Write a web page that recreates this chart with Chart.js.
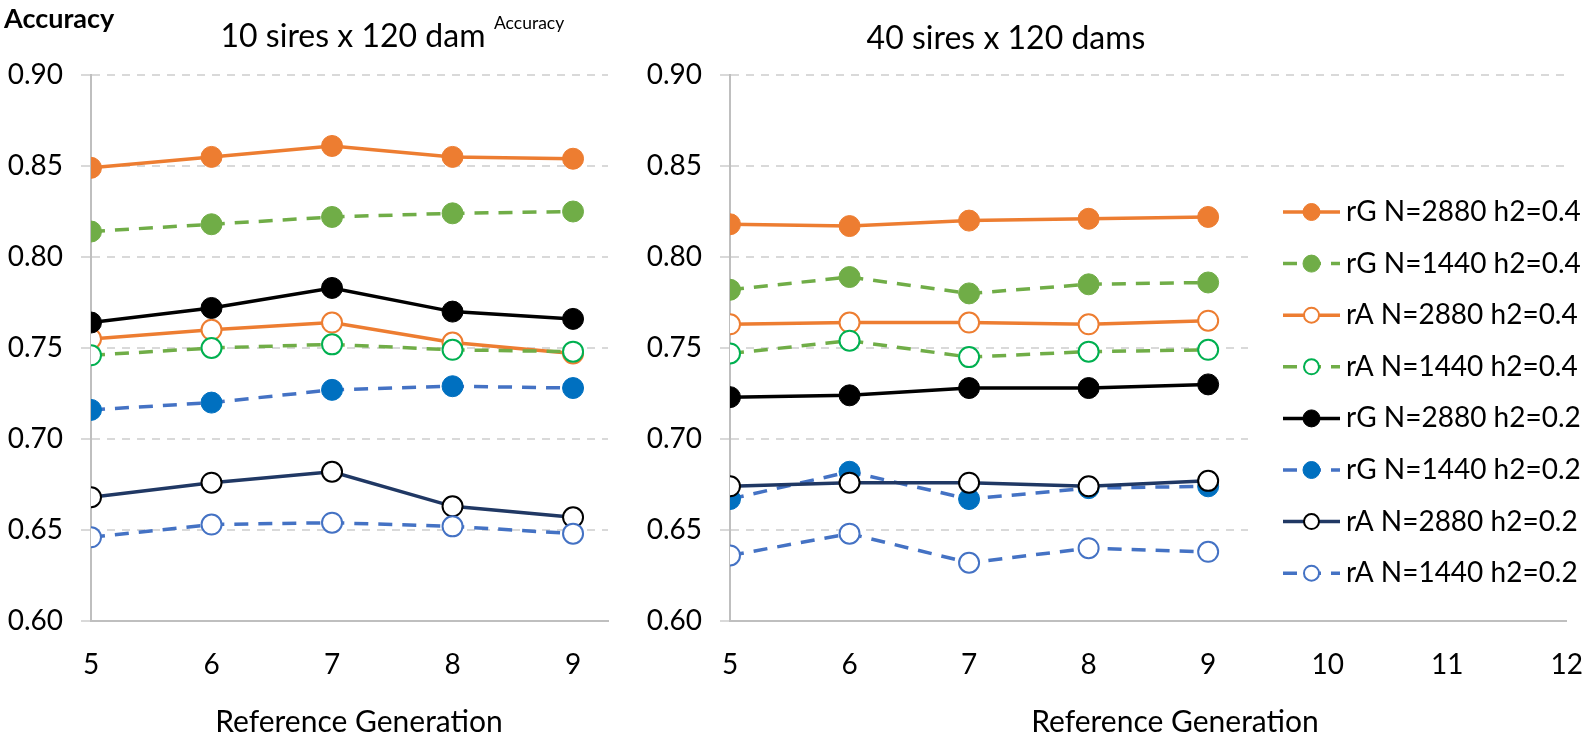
<!DOCTYPE html>
<html>
<head>
<meta charset="utf-8">
<script src="https://cdn.jsdelivr.net/npm/chart.js@4.4.1/dist/chart.umd.min.js"></script>
<style>
  body { margin: 0; width: 1592px; height: 736px; overflow: hidden; position: relative; background: #fff; font-family: Lato, sans-serif; color: #000; }
  canvas { position: absolute; top: 0; }
  .txt { position: absolute; white-space: nowrap; line-height: 1; transform: translate(-50%, -50%); }
</style>
</head>
<body>
<canvas id="leftChart" width="640" height="736" style="left:0"></canvas>
<canvas id="rightChart" width="990" height="736" style="left:620px"></canvas>

<div class="txt" style="left:4px; top:17px; transform: translateY(-50%); font-size:27px; font-weight:bold;">Accuracy</div>
<div class="txt" style="left:353px; top:35px; font-size:32px;">10 sires x 120 dam</div>
<div class="txt" style="left:494px; top:23px; transform: translateY(-50%); font-size:17.5px;">Accuracy</div>
<div class="txt" style="left:1006px; top:37px; font-size:32px;">40 sires x 120 dams</div>
<div class="txt" style="left:359px; top:720px; font-size:30px;">Reference Generation</div>
<div class="txt" style="left:1175px; top:720px; font-size:30px;">Reference Generation</div>

<script>
const generations = [5, 6, 7, 8, 9];
const leftXTicks = [5, 6, 7, 8, 9];
const rightXTicks = [5, 6, 7, 8, 9, 10, 11, 12];
const yTicks = [0.6, 0.65, 0.7, 0.75, 0.8, 0.85, 0.9];

const seriesLabels = [
  "rG N=2880 h2=0.4",
  "rG N=1440 h2=0.4",
  "rA N=2880 h2=0.4",
  "rA N=1440 h2=0.4",
  "rG N=2880 h2=0.2",
  "rG N=1440 h2=0.2",
  "rA N=2880 h2=0.2",
  "rA N=1440 h2=0.2",
];

// 10 sires x 120 dam
const leftRG2880h04 = [0.849, 0.855, 0.861, 0.855, 0.854];
const leftRG1440h04 = [0.814, 0.818, 0.822, 0.824, 0.825];
const leftRA2880h04 = [0.755, 0.760, 0.764, 0.753, 0.747];
const leftRA1440h04 = [0.746, 0.750, 0.752, 0.749, 0.748];
const leftRG2880h02 = [0.764, 0.772, 0.783, 0.770, 0.766];
const leftRG1440h02 = [0.716, 0.720, 0.727, 0.729, 0.728];
const leftRA2880h02 = [0.668, 0.676, 0.682, 0.663, 0.657];
const leftRA1440h02 = [0.646, 0.653, 0.654, 0.652, 0.648];

// 40 sires x 120 dams
const rightRG2880h04 = [0.818, 0.817, 0.820, 0.821, 0.822];
const rightRG1440h04 = [0.782, 0.789, 0.780, 0.785, 0.786];
const rightRA2880h04 = [0.763, 0.764, 0.764, 0.763, 0.765];
const rightRA1440h04 = [0.747, 0.754, 0.745, 0.748, 0.749];
const rightRG2880h02 = [0.723, 0.724, 0.728, 0.728, 0.730];
const rightRG1440h02 = [0.667, 0.682, 0.667, 0.673, 0.674];
const rightRA2880h02 = [0.674, 0.676, 0.676, 0.674, 0.677];
const rightRA1440h02 = [0.636, 0.648, 0.632, 0.640, 0.638];

const DASH = [14, 10];
const seriesStyles = [
  { line: "#ED7D31", dash: [], fill: "#ED7D31", stroke: "#ED7D31" },
  { line: "#70AD47", dash: DASH, fill: "#70AD47", stroke: "#70AD47" },
  { line: "#ED7D31", dash: [], fill: "#FFFFFF", stroke: "#ED7D31" },
  { line: "#70AD47", dash: DASH, fill: "#FFFFFF", stroke: "#00B050" },
  { line: "#000000", dash: [], fill: "#000000", stroke: "#000000" },
  { line: "#4472C4", dash: DASH, fill: "#0070C0", stroke: "#0070C0" },
  { line: "#203864", dash: [], fill: "#FFFFFF", stroke: "#000000" },
  { line: "#4472C4", dash: DASH, fill: "#FFFFFF", stroke: "#4472C4" },
];

const tickFont = { family: "Lato", size: 28 };

const makeDatasets = (valueLists) =>
  seriesLabels.map((label, i) => {
    const s = seriesStyles[i];
    const hollow = s.fill === "#FFFFFF";
    return {
      label,
      data: generations.map((g, j) => ({ x: g, y: valueLists[i][j] })),
      borderColor: s.line,
      borderWidth: 3.5,
      borderDash: s.dash,
      pointBackgroundColor: s.fill,
      pointBorderColor: s.stroke,
      pointBorderWidth: hollow ? 2 : 1,
      pointRadius: hollow ? 10 : 10.5,
      tension: 0,
      order: -i,
    };
  });

// legend drawn over the right part of the plot, like the original
const sideLegend = {
  id: "sideLegend",
  beforeDatasetsDraw(chart) {
    const ctx = chart.ctx;
    const boxLeft = 628;
    const firstY = 212;
    const step = 51.6;
    ctx.save();
    ctx.fillStyle = "#FFFFFF";
    ctx.fillRect(boxLeft, 188, chart.width - boxLeft, 410);
    chart.data.datasets.forEach((ds, i) => {
      const y = firstY + i * step;
      ctx.setLineDash(ds.borderDash);
      ctx.strokeStyle = ds.borderColor;
      ctx.lineWidth = ds.borderWidth;
      ctx.beginPath();
      ctx.moveTo(663, y);
      ctx.lineTo(720, y);
      ctx.stroke();
      ctx.setLineDash([]);
      ctx.beginPath();
      ctx.arc(691.5, y, ds.pointBackgroundColor === "#FFFFFF" ? 7.5 : 8.5, 0, Math.PI * 2);
      ctx.fillStyle = ds.pointBackgroundColor;
      ctx.fill();
      ctx.lineWidth = ds.pointBorderWidth;
      ctx.strokeStyle = ds.pointBorderColor;
      ctx.stroke();
      ctx.fillStyle = "#000000";
      ctx.font = "28px Lato";
      ctx.textBaseline = "middle";
      ctx.fillText(ds.label, 726, y);
    });
    ctx.restore();
  },
};

function drawPanel(id, valueLists, xTicks, xMax, yWidth, padRight, plugins) {
  const canvas = document.getElementById(id);
  new Chart(canvas, {
    type: "line",
    data: { datasets: makeDatasets(valueLists) },
    options: {
      responsive: false,
      animation: false,
      layout: { padding: { top: 75, right: padRight, left: 0, bottom: 0 } },
      plugins: { legend: { display: false }, tooltip: { enabled: false } },
      scales: {
        x: {
          type: "linear",
          min: 5,
          max: xMax,
          afterBuildTicks: (scale) => {
            scale.ticks = xTicks.map((v) => ({ value: v }));
          },
          afterFit: (scale) => {
            scale.height = 736 - 621;
          },
          grid: { display: false, drawTicks: false },
          border: { display: true, color: "#BFBFBF", width: 2 },
          ticks: { font: tickFont, color: "#000", padding: 27, maxRotation: 0 },
        },
        y: {
          min: 0.6,
          max: 0.9,
          afterBuildTicks: (scale) => {
            scale.ticks = yTicks.map((v) => ({ value: v }));
          },
          afterFit: (scale) => {
            scale.width = yWidth;
          },
          grid: { color: "#D9D9D9", lineWidth: 2, tickLength: 10 },
          border: { display: true, color: "#BFBFBF", width: 2, dash: [8, 7] },
          ticks: {
            font: tickFont,
            color: "#000",
            padding: 18,
            callback: (v) => v.toFixed(2),
          },
        },
      },
    },
    plugins,
  });
}

drawPanel("leftChart",
  [leftRG2880h04, leftRG1440h04, leftRA2880h04, leftRA1440h04,
   leftRG2880h02, leftRG1440h02, leftRA2880h02, leftRA1440h02],
  leftXTicks, 9.29, 91, 640 - 608, []);

drawPanel("rightChart",
  [rightRG2880h04, rightRG1440h04, rightRA2880h04, rightRA1440h04,
   rightRG2880h02, rightRG1440h02, rightRA2880h02, rightRA1440h02],
  rightXTicks, 12, 110, 990 - 958, [sideLegend]);
</script>
</body>
</html>
